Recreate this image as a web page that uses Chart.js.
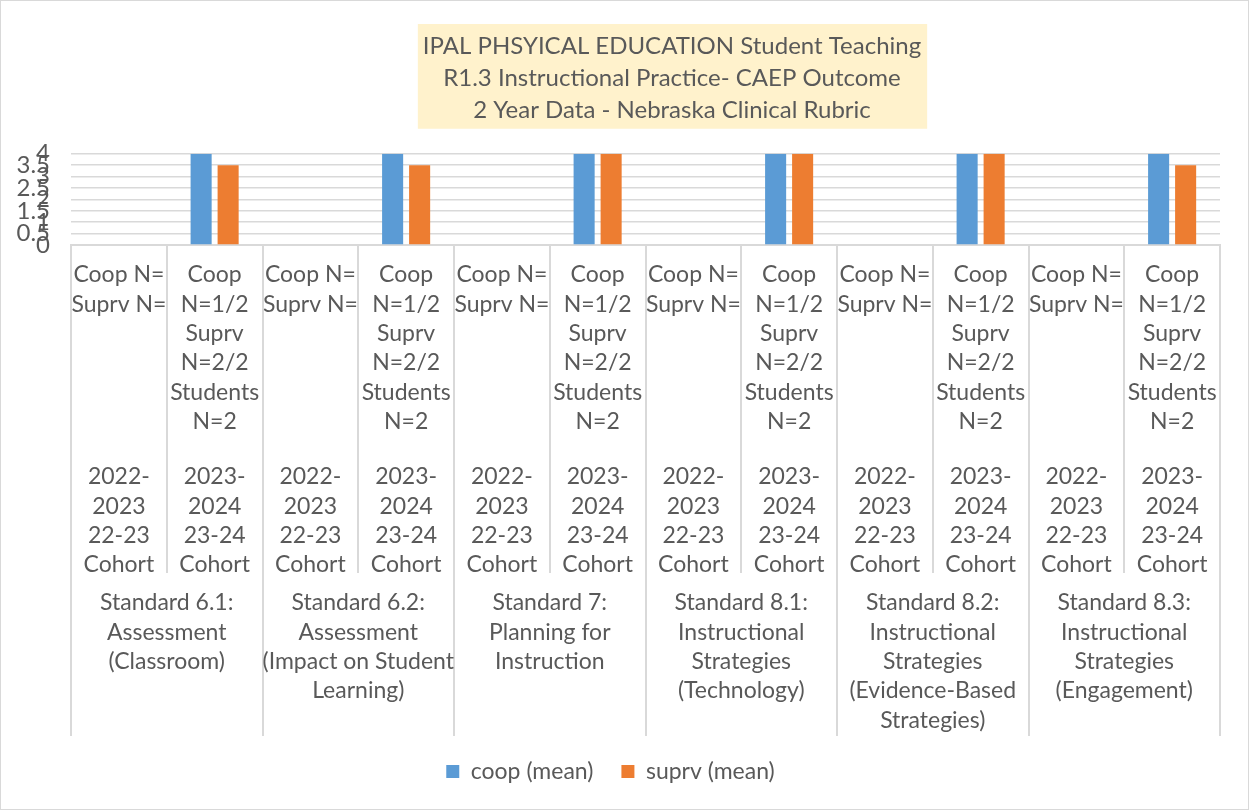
<!DOCTYPE html>
<html>
<head>
<meta charset="utf-8">
<script src="https://cdn.jsdelivr.net/npm/chart.js@4"></script>
<style>
  html, body { margin: 0; padding: 0; background: #fff; }
  #wrap { width: 1249px; height: 810px; box-sizing: border-box; border: 1px solid #d9d9d9; position: relative; }
  canvas { display: block; }
</style>
</head>
<body>
<div id="wrap"><canvas id="chart"></canvas></div>
<script>
'use strict';

/*** DATA ***/

var titleLines = ['IPAL PHSYICAL EDUCATION Student Teaching', 'R1.3 Instructional Practice- CAEP Outcome', '2 Year Data - Nebraska Clinical Rubric'];
var standards = [
  ['Standard 6.1:', 'Assessment', '(Classroom)'],
  ['Standard 6.2:', 'Assessment', '(Impact on Student', 'Learning)'],
  ['Standard 7:', 'Planning for', 'Instruction'],
  ['Standard 8.1:', 'Instructional', 'Strategies', '(Technology)'],
  ['Standard 8.2:', 'Instructional', 'Strategies', '(Evidence-Based', 'Strategies)'],
  ['Standard 8.3:', 'Instructional', 'Strategies', '(Engagement)']
];
var countLines = [['Coop N=', 'Suprv N='], ['Coop', 'N=1/2', 'Suprv', 'N=2/2', 'Students', 'N=2']];
var cohortLines = [['2022-', '2023', '22-23', 'Cohort'], ['2023-', '2024', '23-24', 'Cohort']];
var coopMeans = [null, 4, null, 4, null, 4, null, 4, null, 4, null, 4];
var suprvMeans = [null, 3.5, null, 3.5, null, 4, null, 4, null, 4, null, 3.5];
var yTicks = [0, 0.5, 1, 1.5, 2, 2.5, 3, 3.5, 4];

/*** BUILD CATEGORY LABELS ***/

var countLabels = [];
var cohortLabels = [];
for (var i = 0; i < standards.length; i++) {
  for (var j = 0; j < cohortLines.length; j++) {
    countLabels.push(countLines[j]);
    cohortLabels.push(cohortLines[j]);
  }
}

/*** STYLE ***/

var FONT = 'Lato, "Open Sans", sans-serif';
var TEXT = '#595959';
var LINE = '#d9d9d9';
var TITLE_CENTER = 671; // the title sits right of the plot centre in the original

// moves the title block and puts a yellow box behind its text
var titleBox = {
  id: 'titleBox',
  afterLayout: function(chart) {
    var t = chart.titleBlock;
    var half = (t.right - t.left) / 2;
    t.left = TITLE_CENTER - half;
    t.right = TITLE_CENTER + half;
  },
  beforeDraw: function(chart) {
    var t = chart.titleBlock;
    var ctx = chart.ctx;
    var opts = chart.options.plugins.title;
    ctx.save();
    ctx.font = opts.font.size + 'px ' + FONT;
    var w = 0;
    for (var k = 0; k < titleLines.length; k++) {
      w = Math.max(w, ctx.measureText(titleLines[k]).width);
    }
    var lh = opts.font.size * opts.font.lineHeight;
    var top = t.top + opts.padding.top - 6;
    ctx.fillStyle = '#fff2cc';
    ctx.fillRect(TITLE_CENTER - w / 2 - 5, top, w + 11, lh * titleLines.length + 9);
    ctx.restore();
  }
};

// fixed axis band sizes (long tick marks hang below the labels)
function bandHeight(h) {
  return function(scale) { scale.height = h; };
}

/*** CHART ***/

var ctx = document.getElementById('chart').getContext('2d');
var chart = new Chart(ctx, {
  type: 'bar',
  data: {
    labels: countLabels,
    datasets: [{
      label: 'coop (mean)',
      data: coopMeans,
      backgroundColor: '#5b9bd5',
      borderWidth: 0
    }, {
      label: 'suprv (mean)',
      data: suprvMeans,
      backgroundColor: '#ed7d31',
      borderWidth: 0
    }]
  },
  plugins: [titleBox],
  options: {
    responsive: true,
    maintainAspectRatio: false,
    animation: false,
    categoryPercentage: 0.564,
    barPercentage: 0.78,
    layout: { padding: { top: 10, left: 0, right: 28, bottom: 16 } },
    plugins: {
      tooltip: { enabled: false },
      title: {
        display: true,
        text: titleLines,
        color: TEXT,
        font: { family: FONT, size: 24, weight: 'normal', lineHeight: 1.33 },
        padding: { top: 19, bottom: 28 }
      },
      legend: {
        position: 'bottom',
        labels: {
          color: TEXT,
          font: { family: FONT, size: 23 },
          boxWidth: 13,
          boxHeight: 13,
          padding: 28
        }
      }
    },
    scales: {
      y: {
        min: 0,
        max: 4,
        afterFit: function(scale) { scale.width = 70; },
        afterBuildTicks: function(axis) {
          axis.ticks = yTicks.map(function(v) { return { value: v }; });
        },
        ticks: {
          autoSkip: false, color: TEXT, font: { family: FONT, size: 24 }, padding: 21,
          callback: function(v) { return String(v); }
        },
        grid: { color: LINE, lineWidth: 1.4, drawTicks: false },
        border: { display: false }
      },
      x: {
        weight: 1,
        offset: true,
        afterFit: bandHeight(191),
        ticks: { color: TEXT, font: { family: FONT, size: 23, lineHeight: 1.28 }, padding: -313, maxRotation: 0, autoSkip: false },
        grid: { offset: true, drawOnChartArea: false, tickLength: 328, color: LINE, lineWidth: 2 },
        border: { color: LINE, width: 2 }
      },
      x2: {
        type: 'category',
        position: 'bottom',
        weight: 2,
        labels: cohortLabels,
        offset: true,
        afterFit: bandHeight(136),
        ticks: { color: TEXT, font: { family: FONT, size: 23, lineHeight: 1.28 }, padding: 18, maxRotation: 0, autoSkip: false },
        grid: { display: false },
        border: { display: false }
      },
      x3: {
        type: 'category',
        position: 'bottom',
        weight: 3,
        labels: standards,
        offset: true,
        afterFit: bandHeight(160),
        ticks: { color: TEXT, font: { family: FONT, size: 23, lineHeight: 1.28 }, padding: -148, maxRotation: 0, autoSkip: false },
        grid: { offset: true, drawOnChartArea: false, tickLength: 164, color: LINE, lineWidth: 2 },
        border: { display: false }
      }
    }
  }
});
</script>
</body>
</html>
